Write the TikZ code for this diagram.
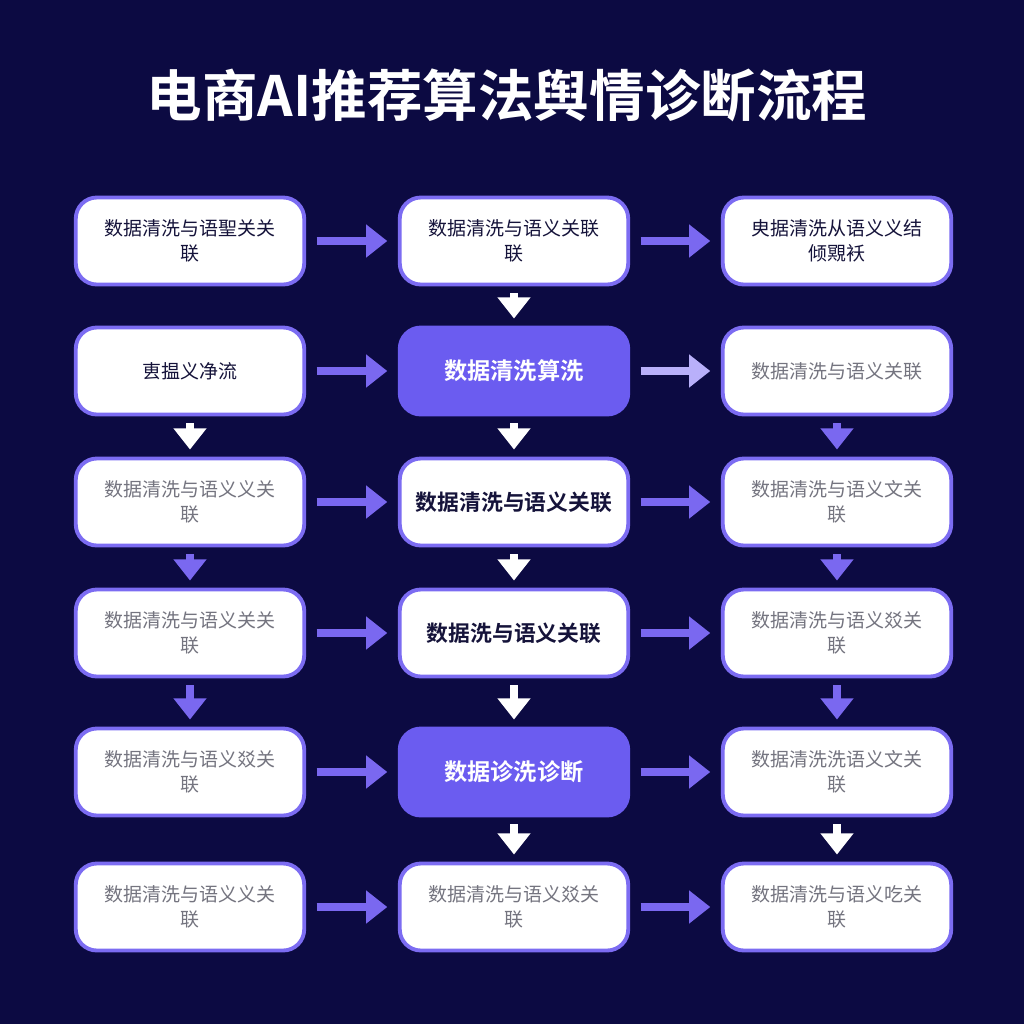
\documentclass[tikz,border=0pt]{standalone}
\usepackage{fontspec}
\newfontfamily\cjk{Noto Sans CJK SC}
\newfontfamily\cjkb{Noto Sans CJK SC Bold}
\usetikzlibrary{arrows.meta,positioning}
\definecolor{bgnavy}{HTML}{0C0A42}
\definecolor{boxline}{HTML}{7C6CF2}
\definecolor{boxfill}{HTML}{6B5CF0}
\definecolor{greytxt}{HTML}{74747F}
\definecolor{darktxt}{HTML}{15133A}
\definecolor{arrowlilac}{HTML}{7A68F0}
\definecolor{arrowpale}{HTML}{B9B0FA}
\tikzset{
  box/.style={draw=boxline, line width=1.1pt, fill=white, rounded corners=6pt,
    minimum width=2.28cm, minimum height=0.87cm, text width=2.05cm, align=center,
    font=\cjk\fontsize{5.4pt}{7pt}\selectfont, text=greytxt},
  dark/.style={text=darktxt},
  bold/.style={text=darktxt, font=\cjkb\fontsize{6.2pt}{8pt}\selectfont},
  hot/.style={fill=boxfill, draw=boxfill, text=white, font=\cjkb\fontsize{6.6pt}{8pt}\selectfont},
  flow/.style={line width=2.2pt, arrowlilac, -{Triangle[length=6pt,width=9pt]}},
  flowp/.style={flow, arrowpale},
  down/.style={flow, white}
}
\begin{document}
\begin{tikzpicture}
\fill[bgnavy] (0,0) rectangle (10.24,-10.24);
\node[text=white, font=\cjkb\fontsize{15.8pt}{17pt}\selectfont] (title) at (5.07,-0.95) {电商AI推荐算法舆情诊断流程};

% row 1
\node[box, dark] (r1c1) at (1.90,-2.41) {数据清洗与语聖关关\\联};
\node[box, dark] (r1c2) at (5.14,-2.41) {数据清洗与语义关联\\联};
\node[box, dark] (r1c3) at (8.37,-2.41) {㬰据清洗从语义义结\\倾覭袄};
% row 2
\node[box, dark] (r2c1) at (1.90,-3.71) {叀揾义净流};
\node[box, hot] (r2c2) at (5.14,-3.71) {数据清洗算洗};
\node[box] (r2c3) at (8.37,-3.71) {数据清洗与语义关联};
% row 3
\node[box] (r3c1) at (1.90,-5.02) {数据清洗与语义义关\\联};
\node[box, bold] (r3c2) at (5.14,-5.02) {数据清洗与语义关联};
\node[box] (r3c3) at (8.37,-5.02) {数据清洗与语义文关\\联};
% row 4
\node[box] (r4c1) at (1.90,-6.33) {数据清洗与语义关关\\联};
\node[box, bold] (r4c2) at (5.14,-6.33) {数据洗与语义关联};
\node[box] (r4c3) at (8.37,-6.33) {数据清洗与语义㸚关\\联};
% row 5
\node[box] (r5c1) at (1.90,-7.72) {数据清洗与语义㸚关\\联};
\node[box, hot] (r5c2) at (5.14,-7.72) {数据诊洗诊断};
\node[box] (r5c3) at (8.37,-7.72) {数据清洗洗语义文关\\联};
% row 6
\node[box] (r6c1) at (1.90,-9.07) {数据清洗与语义义关\\联};
\node[box] (r6c2) at (5.14,-9.07) {数据清洗与语义㸚关\\联};
\node[box] (r6c3) at (8.37,-9.07) {数据清洗与语义吃关\\联};

% across
\foreach \r in {1,...,6}{
  \draw[flow] ([xshift=3pt]r\r c1.east) -- ([xshift=-3pt]r\r c2.west);
}
\foreach \r in {1,3,4,5,6}{
  \draw[flow] ([xshift=3pt]r\r c2.east) -- ([xshift=-3pt]r\r c3.west);
}
\draw[flowp] ([xshift=3pt]r2c2.east) -- ([xshift=-3pt]r2c3.west);

% down
\draw[down] ([yshift=-2pt]r2c1.south) -- ([yshift=2pt]r3c1.north);
\draw[flow] ([yshift=-2pt]r3c1.south) -- ([yshift=2pt]r4c1.north);
\draw[flow] ([yshift=-2pt]r4c1.south) -- ([yshift=2pt]r5c1.north);
\foreach \a/\b in {1/2,2/3,3/4,4/5,5/6}{
  \draw[down] ([yshift=-2pt]r\a c2.south) -- ([yshift=2pt]r\b c2.north);
}
\draw[flow] ([yshift=-2pt]r2c3.south) -- ([yshift=2pt]r3c3.north);
\draw[flow] ([yshift=-2pt]r3c3.south) -- ([yshift=2pt]r4c3.north);
\draw[flow] ([yshift=-2pt]r4c3.south) -- ([yshift=2pt]r5c3.north);
\draw[down] ([yshift=-2pt]r5c3.south) -- ([yshift=2pt]r6c3.north);
\end{tikzpicture}
\end{document}
